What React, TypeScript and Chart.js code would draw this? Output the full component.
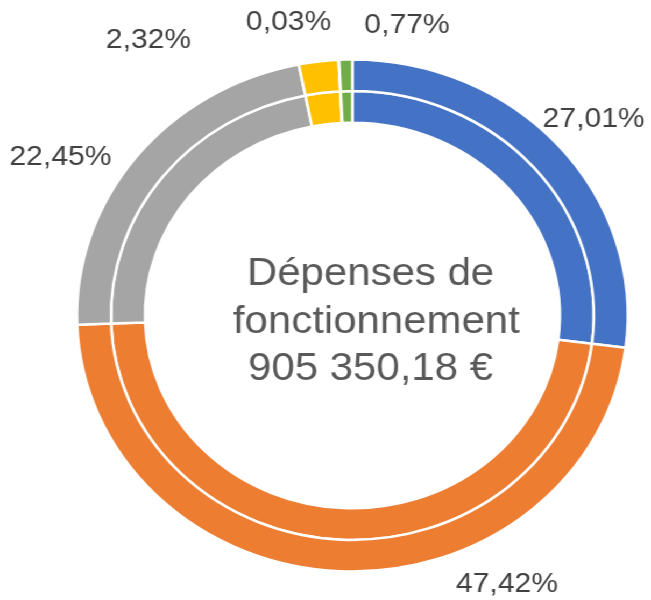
import React, { useEffect, useRef } from "react";
import { Chart, registerables } from "chart.js";

Chart.register(...registerables);

const categories = ["Poste 1", "Poste 2", "Poste 3", "Poste 4", "Poste 5", "Poste 6"];
const shares = [27.01, 47.42, 22.45, 2.32, 0.03, 0.77];
const colors = ["#4472C4", "#ED7D31", "#A5A5A5", "#FFC000", "#5B9BD5", "#70AD47"];
const centerLines = ["Dépenses de ", "fonctionnement", "905 350,18 € "];

// label placement nudges (degrees relative to slice middle, radial distance in px)
const labelAngleNudge = [0.2, -30.7, -8.1, -27.5, -8.6, 11.3];
const labelRadius = [298, 305, 314, 334, 299, 295];

const W = 605;
const H = 600;
const STRETCH = 651 / 605;

const fmt = (v: number) => v.toFixed(2).replace(".", ",") + "%";

const textPlugin = {
  id: "textPlugin",
  afterDraw(chart: any) {
    const ctx = chart.ctx as CanvasRenderingContext2D;
    const meta = chart.getDatasetMeta(0);
    ctx.save();
    // slice labels
    ctx.font = "28px 'Liberation Sans', Arial, sans-serif";
    ctx.fillStyle = "#404040";
    ctx.textAlign = "center";
    ctx.textBaseline = "middle";
    meta.data.forEach((arc: any, i: number) => {
      const mid = (arc.startAngle + arc.endAngle) / 2 + (labelAngleNudge[i] * Math.PI) / 180;
      const r = labelRadius[i];
      const x = arc.x + r * Math.cos(mid);
      const y = arc.y + r * Math.sin(mid);
      ctx.fillText(fmt(shares[i]), x, y);
    });
    // center text
    const a0 = meta.data[0];
    const cx = a0.x + 22.3;
    const cy = a0.y;
    ctx.font = "39px 'Liberation Sans', Arial, sans-serif";
    ctx.fillStyle = "#595959";
    ctx.textBaseline = "alphabetic";
    const offs = [-30.5, 17, 64.5];
    centerLines.forEach((t, i) => ctx.fillText(t, cx, cy + offs[i]));
    ctx.restore();
  },
};

export default function App() {
  const ref = useRef<HTMLCanvasElement | null>(null);
  useEffect(() => {
    if (!ref.current) return;
    const chart = new Chart(ref.current, {
      type: "doughnut",
      data: {
        labels: categories,
        datasets: [
          { data: shares, backgroundColor: colors, borderColor: "#ffffff", borderWidth: 2.5 },
          { data: shares, backgroundColor: colors, borderColor: "#ffffff", borderWidth: 2.5 },
        ],
      },
      options: {
        responsive: false,
        animation: false,
        radius: 256,
        cutout: "75.3%",
        layout: { padding: { left: 50, right: 0, top: 31, bottom: 0 } },
        plugins: { legend: { display: false }, tooltip: { enabled: false } },
      },
      plugins: [textPlugin],
    });
    return () => chart.destroy();
  }, []);
  return (
    <div
      style={{
        position: "fixed",
        left: 0,
        top: 0,
        width: W,
        height: H,
        background: "#ffffff",
        transform: `scaleX(${STRETCH})`,
        transformOrigin: "0 0",
      }}
    >
      <canvas ref={ref} width={W} height={H} />
    </div>
  );
}
